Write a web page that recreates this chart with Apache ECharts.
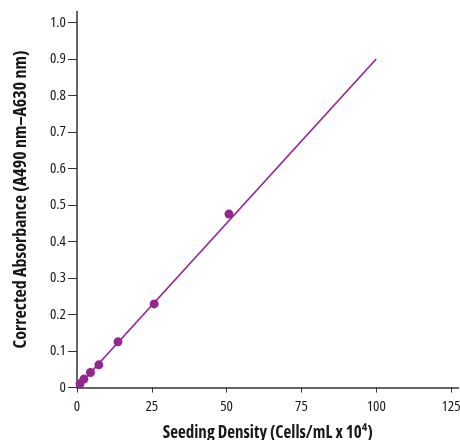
<!DOCTYPE html>
<html>
<head>
<meta charset="utf-8">
<script src="https://cdn.jsdelivr.net/npm/echarts@6/dist/echarts.min.js"></script>
<style>
html,body{margin:0;padding:0;background:#fff;}
#chart{width:460px;height:440px;}
</style>
</head>
<body>
<div id="chart"></div>
<script>
// Measured points (seeding density, corrected absorbance)
const densities = [1.0, 2.3, 4.5, 7.3, 13.7, 25.8, 50.8];
const absorbance = [0.010, 0.023, 0.041, 0.062, 0.125, 0.229, 0.475];
// Linear fit line end points
const fitX = [0, 100];
const fitY = [0, 0.9];
// Tick labels
const xTicks = [0, 25, 50, 75, 100, 125];
const yTicks = [0, 0.1, 0.2, 0.3, 0.4, 0.5, 0.6, 0.7, 0.8, 0.9, 1.0];

const xTitle = 'Seeding Density (Cells/mL x 10⁴)';
const yTitle = 'Corrected Absorbance (A490 nm–A630 nm)';

const purple = '#93278f';
const axisColor = '#333333';
const textColor = '#1a1718';
const font = '"Open Sans", "Roboto", sans-serif';

const chart = echarts.init(document.getElementById('chart'), null, {renderer: 'canvas'});
chart.setOption({
  animation: false,
  backgroundColor: '#fff',
  grid: {left: 77, top: 11.5, width: 381.5, height: 376, containLabel: false, outerBoundsMode: 'none'},
  xAxis: {
    type: 'value', min: 0, max: 127.5, interval: 25,
    name: xTitle, nameLocation: 'middle', nameGap: 37,
    nameTextStyle: {fontFamily: font, fontWeight: 'bold condensed', fontSize: 17, color: textColor},
    axisLine: {show: true, lineStyle: {color: axisColor, width: 1.5}},
    axisTick: {show: true, length: 5, lineStyle: {color: axisColor, width: 1}, customValues: xTicks},
    axisLabel: {fontFamily: font, fontWeight: 'normal condensed', fontSize: 15, color: textColor, margin: 12,
      customValues: xTicks},
    splitLine: {show: false}
  },
  yAxis: {
    type: 'value', min: 0, max: 1.03, interval: 0.1,
    name: yTitle, nameLocation: 'middle', nameGap: 47, nameRotate: 90,
    nameTextStyle: {fontFamily: font, fontWeight: 'bold condensed', fontSize: 18, color: textColor},
    axisLine: {show: true, lineStyle: {color: axisColor, width: 1.5}},
    axisTick: {show: true, length: 9, lineStyle: {color: axisColor, width: 1}, customValues: yTicks},
    axisLabel: {fontFamily: font, fontWeight: 'normal condensed', fontSize: 15, color: textColor, margin: 11,
      customValues: yTicks,
      formatter: v => (v === 0 ? '0' : v.toFixed(1))},
    splitLine: {show: false}
  },
  series: [
    {
      type: 'line',
      data: fitX.map((x, i) => [x, fitY[i]]),
      showSymbol: false,
      symbol: 'none',
      lineStyle: {color: purple, width: 1.7},
      z: 2
    },
    {
      type: 'scatter',
      data: densities.map((x, i) => [x, absorbance[i]]),
      symbol: 'circle',
      symbolSize: 9,
      itemStyle: {color: purple, opacity: 1},
      z: 3
    }
  ]
});
</script>
</body>
</html>
